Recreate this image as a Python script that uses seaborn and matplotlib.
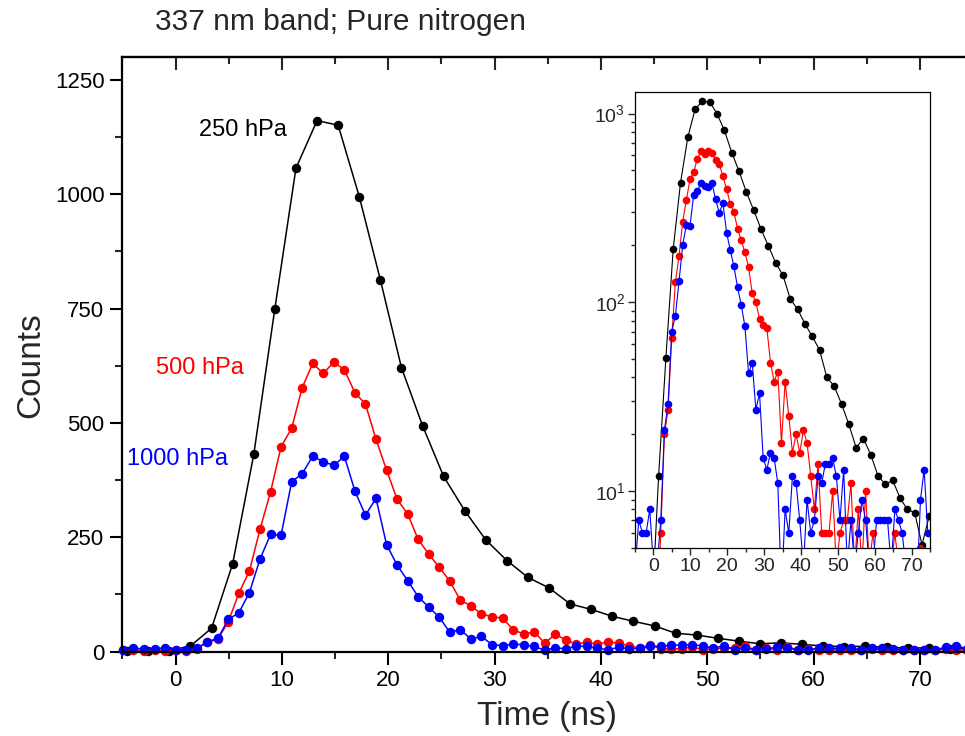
import numpy as np
import matplotlib
matplotlib.use("Agg")
import matplotlib.pyplot as plt
import seaborn as sns
from matplotlib.ticker import MultipleLocator, LogLocator, NullFormatter, FixedLocator

# ---------------- data ----------------
# time grid: 500/1000 hPa curves have ~0.99 ns bins, 250 hPa curve 2-bin steps
bin_index = np.arange(-5, 76)
time_rb = bin_index * 0.992
black_index = np.arange(-3, 38)
time_black = 1.4 + 1.984 * black_index

counts_250 = [2, 1, 2, 12, 51, 192, 431, 750, 1057, 1161, 1151, 995, 813, 621,
              494, 383, 308, 244, 199, 162, 139, 104, 92, 77, 66, 56, 40, 36,
              29, 22.6, 17, 19, 15.6, 12, 10.9, 11.4, 9.2, 8, 7.7, 5.2, 7.4]

counts_500 = [3, 3, 2, 3, 2, 3, 2, 6, 20, 27, 65, 128, 176, 267, 349, 448, 488,
              577, 630, 608, 633, 616, 566, 541, 464, 397, 333, 301, 245, 213,
              184, 154, 112, 100, 82, 76, 73, 48, 38, 43, 18, 38, 25, 16, 20,
              16, 21, 18, 12, 8, 14, 6, 6, 6, 10, 4, 6, 7, 7, 11, 4, 8, 4, 10,
              4, 6, 4, 3, 4, 3, 4, 6, 4, 3, 4, 3, 4, 3, 5, 3, 4]

counts_1000 = [4, 7, 6, 6, 8, 4, 4, 7, 21, 29, 70, 85, 129, 202, 256, 254, 371,
               389, 427, 415, 407, 427, 351, 298, 335, 234, 189, 155, 120, 97,
               75, 42, 48, 27, 33, 15, 13, 16, 15, 11, 3, 8, 6, 12, 11, 7, 4,
               9, 6, 7, 12, 11, 14, 14, 15, 12, 7, 13, 4, 7, 4, 6, 9, 7, 4, 4,
               7, 7, 7, 7, 4, 8, 7, 6, 4, 4, 4, 3, 9, 13, 6]

series_labels = ["250 hPa", "500 hPa", "1000 hPa"]
series_colors = ["#000000", "#ff0000", "#0000ff"]

# ---------------- style ----------------
sns.set_style("ticks")
plt.rcParams["font.family"] = ["Liberation Sans", "DejaVu Sans"]
plt.rcParams["mathtext.fontset"] = "custom"
plt.rcParams["mathtext.rm"] = "Liberation Sans"
plt.rcParams["mathtext.it"] = "Liberation Sans:italic"
plt.rcParams["mathtext.bf"] = "Liberation Sans:bold"

fig = plt.figure(figsize=(9.65, 7.36), dpi=100)
fig.patch.set_facecolor("white")

# ---------------- main axes ----------------
ax = fig.add_axes([0.1269, 0.1148, 0.8731, 0.8077])
ax.set_facecolor("white")

data = [(time_black, counts_250), (time_rb, counts_500), (time_rb, counts_1000)]
for (t, v), c in zip(data, series_colors):
    sns.lineplot(x=t, y=v, ax=ax, color=c, marker="o", markersize=6.8,
                 markeredgewidth=0, markeredgecolor=c, linewidth=1.1,
                 estimator=None, sort=False, clip_on=False)

ax.set_xlim(-5, 74.25)
ax.set_ylim(0, 1300)
ax.xaxis.set_major_locator(FixedLocator([0, 10, 20, 30, 40, 50, 60, 70]))
ax.xaxis.set_minor_locator(MultipleLocator(5))
ax.yaxis.set_major_locator(FixedLocator([0, 250, 500, 750, 1000, 1250]))
ax.yaxis.set_minor_locator(MultipleLocator(125))
ax.tick_params(axis="both", which="major", direction="out", length=9,
               width=1.5, labelsize=16, colors="black", pad=4)
ax.tick_params(axis="both", which="minor", direction="out", length=5,
               width=1.5)
for s in ["left", "bottom", "top"]:
    ax.spines[s].set_linewidth(1.6)
    ax.spines[s].set_color("black")
ax.spines["right"].set_visible(False)

sec = ax.secondary_xaxis("top")
sec.xaxis.set_major_locator(FixedLocator([0, 10, 20, 30, 40, 50, 60, 70]))
sec.xaxis.set_minor_locator(MultipleLocator(5))
sec.tick_params(axis="x", which="major", direction="in", length=9, width=1.5,
                labeltop=False)
sec.tick_params(axis="x", which="minor", direction="in", length=5, width=1.5)
sec.spines["top"].set_linewidth(1.6)

ax.set_xlabel("Time (ns)", fontsize=24)
ax.set_ylabel("Counts", fontsize=24)
ax.xaxis.set_label_coords(0.504, -0.083)
ax.yaxis.set_label_coords(-0.091, 0.482)

ax.text(6.3, 1141, series_labels[0], color=series_colors[0], fontsize=17,
        ha="center", va="center")
ax.text(2.33, 620, series_labels[1], color=series_colors[1], fontsize=17,
        ha="center", va="center")
ax.text(0.15, 421, series_labels[2], color=series_colors[2], fontsize=17,
        ha="center", va="center")

fig.text(155 / 965, 1 - 22 / 736, "337 nm band; Pure nitrogen", fontsize=21.5,
         ha="left", va="center")

# ---------------- inset (log scale) ----------------
ax2 = fig.add_axes([635 / 965, 1 - 548 / 736, 295 / 965, 456 / 736])
ax2.set_facecolor("white")
for (t, v), c in zip(data, series_colors):
    sns.lineplot(x=t, y=v, ax=ax2, color=c, marker="o", markersize=5.5,
                 markeredgewidth=0, markeredgecolor=c, linewidth=0.8,
                 estimator=None, sort=False)
ax2.set_yscale("log")
ax2.set_xlim(-5, 75)
ax2.set_ylim(5, 1300)
ax2.xaxis.set_major_locator(FixedLocator([0, 10, 20, 30, 40, 50, 60, 70]))
ax2.xaxis.set_minor_locator(MultipleLocator(5))
ax2.yaxis.set_major_locator(LogLocator(base=10))
ax2.yaxis.set_minor_locator(LogLocator(base=10, subs=np.arange(2, 10)))
ax2.yaxis.set_minor_formatter(NullFormatter())
ax2.tick_params(axis="both", which="major", direction="out", length=5,
                width=1.0, labelsize=14, pad=2)
ax2.tick_params(axis="both", which="minor", direction="out", length=3,
                width=1.0)
for s in ax2.spines.values():
    s.set_visible(True)
    s.set_linewidth(0.9)
    s.set_color("black")
ax2.set_xlabel("")
ax2.set_ylabel("")

fig.savefig("out.png", dpi=100, facecolor="white")
